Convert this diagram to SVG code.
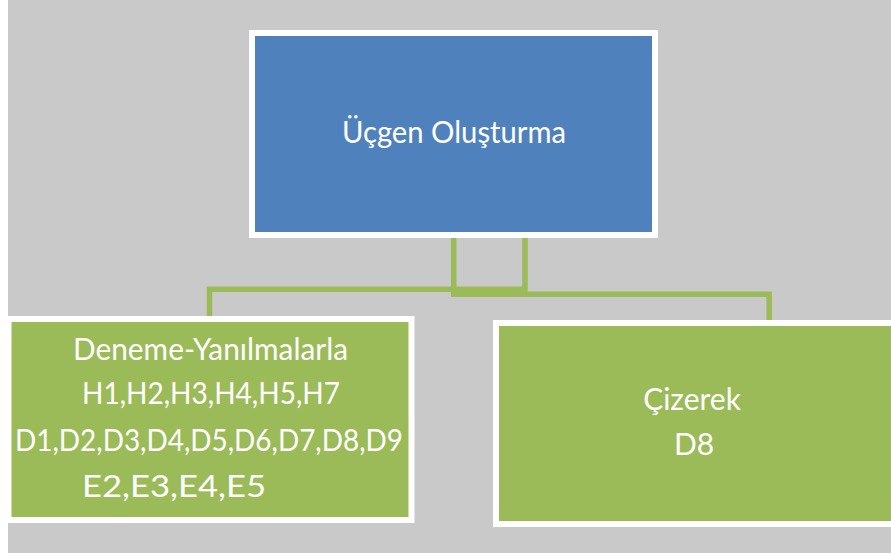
<svg xmlns="http://www.w3.org/2000/svg" width="891" height="553" viewBox="0 0 891 553">
  <style>
    .box { stroke: #ffffff; stroke-width: 6; }
    .parent { fill: #4f81bd; }
    .child { fill: #9bbb59; }
    .link { fill: none; stroke: #9bbb59; stroke-width: 5.5; }
    .label { font-family: Lato, "Liberation Sans", sans-serif; font-size: 30px; fill: #ffffff; text-anchor: middle; }
  </style>
  <!-- canvas -->
  <rect x="0" y="0" width="891" height="553" fill="#ffffff"/>
  <rect x="8" y="0" width="883" height="553" fill="#c9c9c9"/>

  <g id="connectors">
    <path class="link" d="M525 238 V289.3 H209.5 V316"/>
    <path class="link" d="M453.7 238 V294.2 H769.2 V320"/>
  </g>

  <g id="node-root">
    <rect class="box parent" x="252" y="33" width="403" height="202"/>
    <text class="label" x="454" y="143" textLength="224" lengthAdjust="spacingAndGlyphs">Üçgen Oluşturma</text>
  </g>

  <g id="node-left">
    <rect class="box child" x="8.5" y="319" width="403" height="201"/>
    <text class="label" x="210.5" y="360" textLength="275" lengthAdjust="spacingAndGlyphs">Deneme-Yanılmalarla</text>
    <text class="label" x="211" y="404" textLength="258" lengthAdjust="spacingAndGlyphs">H1,H2,H3,H4,H5,H7</text>
    <text class="label" x="209" y="451" textLength="388" lengthAdjust="spacingAndGlyphs">D1,D2,D3,D4,D5,D6,D7,D8,D9</text>
    <text class="label" x="82" y="497" style="text-anchor:start" textLength="184" lengthAdjust="spacingAndGlyphs">E2,E3,E4,E5</text>
  </g>

  <g id="node-right">
    <rect class="box child" x="496" y="323" width="403" height="201"/>
    <text class="label" x="692" y="410">Çizerek</text>
    <text class="label" x="694" y="455">D8</text>
  </g>
</svg>
